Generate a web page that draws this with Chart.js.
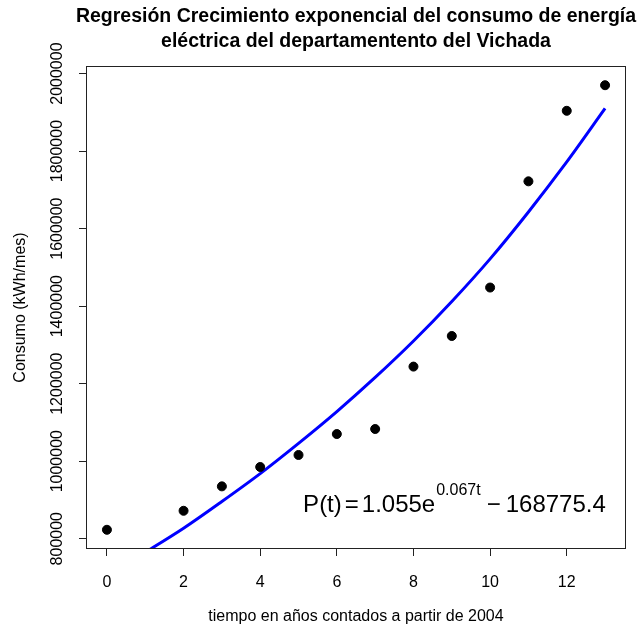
<!DOCTYPE html>
<html>
<head>
<meta charset="utf-8">
<script src="https://cdn.jsdelivr.net/npm/chart.js@4.4.1/dist/chart.umd.min.js"></script>
<style>
  html, body { margin: 0; padding: 0; background: #fff; }
  #grafico { display: block; }
</style>
</head>
<body>
<canvas id="grafico" width="639" height="628"></canvas>
<script>
const tiempo = [0, 2, 3, 4, 5, 6, 7, 8, 9, 10, 11, 12, 13];
const consumo = [823000, 872000, 935000, 985000, 1016000, 1070000, 1083000, 1244000, 1323000, 1448000, 1722000, 1904000, 1970000];

// Curva ajustada
const tiempoAjuste = [0, 1, 2, 3, 4, 5, 6, 7, 8, 9, 10, 11, 12, 13];
const ajuste = [705000, 765000, 827000, 896000, 968000, 1046000, 1128000, 1216000, 1310000, 1412000, 1522000, 1643000, 1772000, 1910000];

// Marcas de los ejes
const ticksX = [0, 2, 4, 6, 8, 10, 12];
const ticksY = [800000, 1000000, 1200000, 1400000, 1600000, 1800000, 2000000];

const titulo = ['Regresión Crecimiento exponencial del consumo de energía', 'eléctrica del departamentento del Vichada'];
const etiquetaX = 'tiempo en años contados a partir de 2004';
const etiquetaY = 'Consumo (kWh/mes)';

const fuente = '"Liberation Sans", Arial, sans-serif';

// Textos y caja al estilo de R
const textosR = {
    id: 'textosR',
    afterDraw(chart) {
        const { ctx, chartArea: a, scales: { x, y } } = chart;
        ctx.save();

        // caja
        ctx.strokeStyle = '#222';
        ctx.lineWidth = 1;
        ctx.strokeRect(Math.round(a.left) - 0.5, Math.round(a.top) - 0.5,
            Math.round(a.right - a.left) + 1, Math.round(a.bottom - a.top) + 1);

        ctx.fillStyle = '#000';
        const centroX = (a.left + a.right) / 2;

        // título
        ctx.font = 'bold 19.5px ' + fuente;
        ctx.textAlign = 'center';
        ctx.textBaseline = 'middle';
        ctx.fillText(titulo[0], centroX, 17);
        ctx.fillText(titulo[1], centroX, 42);

        // etiquetas eje x
        ctx.font = '16px ' + fuente;
        ticksX.forEach(t => {
            ctx.fillText(String(t), x.getPixelForValue(t), a.bottom + 35);
        });
        ctx.fillText(etiquetaX, centroX, 617);

        // etiquetas eje y (verticales)
        ticksY.forEach(v => {
            ctx.save();
            ctx.translate(58, y.getPixelForValue(v));
            ctx.rotate(-Math.PI / 2);
            ctx.fillText(String(v), 0, 0);
            ctx.restore();
        });
        ctx.save();
        ctx.translate(21, (a.top + a.bottom) / 2);
        ctx.rotate(-Math.PI / 2);
        ctx.fillText(etiquetaY, 0, 0);
        ctx.restore();

        // ecuación
        ctx.textAlign = 'left';
        ctx.textBaseline = 'alphabetic';
        let px = x.getPixelForValue(5.12);
        const base = y.getPixelForValue(869000);
        const trozo = (txt, size, dy, gap) => {
            ctx.font = size + 'px ' + fuente;
            ctx.fillText(txt, px, base - dy);
            px += ctx.measureText(txt).width + gap;
        };
        trozo('P(t)', 24, 0, 3);
        trozo('=', 24, 0, 3);
        trozo('1.055e', 24, 0, 1);
        trozo('0.067t', 16, 17, 6);
        trozo('\u2212', 24, 0, 5);
        trozo('168775.4', 24, 0, 0);

        ctx.restore();
    }
};

const ctx = document.getElementById('grafico').getContext('2d');

new Chart(ctx, {
    type: 'scatter',
    data: {
        datasets: [{
            data: tiempo.map((t, i) => ({ x: t, y: consumo[i] })),
            backgroundColor: '#000',
            borderColor: '#000',
            pointRadius: 4.5,
            pointHoverRadius: 4.5,
            showLine: false
        }, {
            data: tiempoAjuste.map((t, i) => ({ x: t, y: ajuste[i] })),
            borderColor: '#0000ff',
            borderWidth: 3,
            pointRadius: 0,
            showLine: true,
            cubicInterpolationMode: 'monotone',
            fill: false
        }]
    },
    options: {
        responsive: false,
        animation: false,
        events: [],
        layout: {
            autoPadding: false,
            padding: { left: 0, right: 14, top: 67, bottom: 0 }
        },
        plugins: {
            legend: { display: false },
            tooltip: { enabled: false },
            title: { display: false }
        },
        scales: {
            x: {
                type: 'linear',
                min: -0.52,
                max: 13.52,
                afterBuildTicks: s => { s.ticks = ticksX.map(v => ({ value: v })); },
                afterFit: s => { s.height = 80; },
                ticks: { display: false },
                border: { display: false },
                grid: { drawOnChartArea: false, drawTicks: true, tickLength: 8, tickColor: '#222', tickWidth: 1 }
            },
            y: {
                type: 'linear',
                min: 776000,
                max: 2017000,
                afterBuildTicks: s => { s.ticks = ticksY.map(v => ({ value: v })); },
                afterFit: s => { s.width = 87; },
                ticks: { display: false },
                border: { display: false },
                grid: { drawOnChartArea: false, drawTicks: true, tickLength: 8, tickColor: '#222', tickWidth: 1 }
            }
        }
    },
    plugins: [textosR]
});
</script>
</body>
</html>
